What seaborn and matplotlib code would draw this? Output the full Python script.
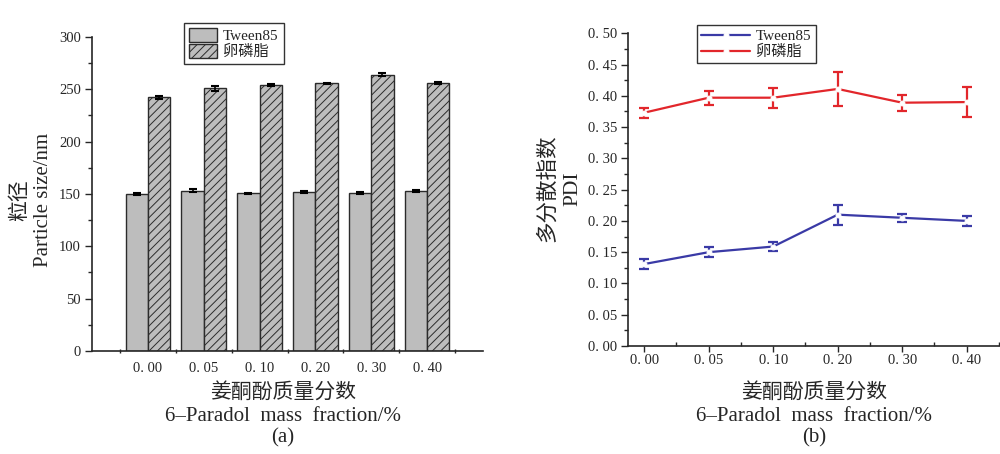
import numpy as np
import pandas as pd
import matplotlib
matplotlib.use("Agg")
import matplotlib.pyplot as plt
from matplotlib.ticker import MultipleLocator, FixedLocator
import seaborn as sns

# data
fractions = ["0. 00", "0. 05", "0. 10", "0. 20", "0. 30", "0. 40"]
series = ["Tween85", "卵磷脂"]

tween_size = [149.7, 153.3, 150.6, 151.7, 151.2, 152.6]
tween_size_err = [0.8, 1.2, 0.8, 0.8, 0.8, 0.8]
lecithin_size = [242.3, 250.8, 254.0, 255.6, 264.0, 256.2]
lecithin_size_err = [1.4, 2.4, 1.0, 0.8, 1.2, 1.0]

tween_pdi = [0.131, 0.150, 0.159, 0.210, 0.205, 0.200]
tween_pdi_err = [0.0085, 0.0083, 0.0077, 0.016, 0.006, 0.0077]
lecithin_pdi = [0.373, 0.397, 0.397, 0.411, 0.389, 0.390]
lecithin_pdi_err = [0.008, 0.011, 0.016, 0.027, 0.0125, 0.0237]

blue = "#3a3aa6"
red = "#e2262b"

sns.set_style("ticks")
plt.rcParams['font.family'] = ['Liberation Serif', 'Noto Sans CJK SC']
plt.rcParams['hatch.linewidth'] = 0.7
plt.rcParams['axes.linewidth'] = 1.2

fig = plt.figure(figsize=(10, 4.54), dpi=100)
ax1 = fig.add_axes([0.092, 0.2269, 0.391, 0.6916])
ax2 = fig.add_axes([0.628, 0.2379, 0.371, 0.6888])

# ---------- (a) particle size bars ----------
size_df = pd.DataFrame({
    "frac": fractions * 2,
    "size": tween_size + lecithin_size,
    "series": [series[0]] * 6 + [series[1]] * 6,
})
sns.barplot(data=size_df, x="frac", y="size", hue="series", hue_order=series,
            palette=["#bdbdbd", "#bdbdbd"], saturation=1, edgecolor="#2b2b2b",
            linewidth=1.0, errorbar=None, legend=False, ax=ax1)
for bar in ax1.containers[1]:
    bar.set_hatch("////")

for cont, err in zip(ax1.containers, [tween_size_err, lecithin_size_err]):
    xs = [b.get_x() + b.get_width() / 2 for b in cont]
    ys = [b.get_height() for b in cont]
    ax1.errorbar(xs, ys, yerr=err, fmt="none", ecolor="black", elinewidth=1.2,
                 capsize=3, capthick=1.5, zorder=5)

ax1.set_xlim(-1, 6)
ax1.set_ylim(0, 300)
ax1.yaxis.set_major_locator(MultipleLocator(50))
ax1.yaxis.set_minor_locator(MultipleLocator(25))
ax1.xaxis.set_minor_locator(FixedLocator(np.arange(-0.5, 6, 1)))
ax1.tick_params(axis="x", which="major", length=0, pad=8, labelsize=10.5)
ax1.tick_params(axis="x", which="minor", length=3, direction="inout", width=1)
ax1.tick_params(axis="y", which="major", length=5, width=1, labelsize=10.5, pad=3)
ax1.tick_params(axis="y", which="minor", length=3, width=1)
ax1.set_xlabel("")
ax1.set_ylabel("")
sns.despine(ax=ax1)

leg1 = ax1.legend(handles=list(ax1.containers), labels=series, loc="upper left",
                  bbox_to_anchor=(0.235, 1.045), fontsize=11, frameon=True,
                  fancybox=False, edgecolor="black", handlelength=1.8,
                  handleheight=1.0, labelspacing=0.05, borderpad=0.35,
                  handletextpad=0.4, borderaxespad=0)
leg1.get_frame().set_linewidth(1.0)

# ---------- (b) PDI lines ----------
pdi_df = pd.DataFrame({
    "pos": list(range(6)) * 2,
    "pdi": tween_pdi + lecithin_pdi,
    "series": [series[0]] * 6 + [series[1]] * 6,
})
sns.lineplot(data=pdi_df, x="pos", y="pdi", hue="series", hue_order=series,
             palette=[blue, red], marker="o", markersize=3.5,
             markerfacecolor="white", markeredgecolor="white", linewidth=1.6,
             legend=False, ax=ax2)
line_handles = list(ax2.get_lines()[:2])

for vals, err, col in zip([tween_pdi, lecithin_pdi], [tween_pdi_err, lecithin_pdi_err], [blue, red]):
    ax2.errorbar(range(6), vals, yerr=err, fmt="none", ecolor=col, elinewidth=1.6,
                 capsize=3.5, capthick=1.6, zorder=1)

ax2.set_xlim(-0.25, 5.5)
ax2.set_ylim(0, 0.5)
ax2.set_xticks(range(6))
ax2.set_xticklabels(fractions)
ax2.xaxis.set_minor_locator(FixedLocator(np.arange(0.5, 5.6, 1)))
ax2.yaxis.set_minor_locator(MultipleLocator(0.025))
ax2.set_yticks(np.arange(0, 0.501, 0.05))
ax2.set_yticklabels(["0. %02d" % round(v * 100) for v in np.arange(0, 0.501, 0.05)])
ax2.tick_params(axis="x", which="major", length=4, width=1, labelsize=10.5, pad=2)
ax2.tick_params(axis="x", which="minor", length=3, direction="in", width=1)
ax2.tick_params(axis="y", which="major", length=5, width=1, labelsize=10.5, pad=3)
ax2.tick_params(axis="y", which="minor", length=3, width=1)
ax2.set_xlabel("")
ax2.set_ylabel("")
sns.despine(ax=ax2)

leg2 = ax2.legend(handles=line_handles, labels=series, loc="upper left",
                  bbox_to_anchor=(0.185, 1.027), fontsize=11, frameon=True,
                  fancybox=False, edgecolor="black", handlelength=3.2,
                  labelspacing=0.1, borderpad=0.3, handletextpad=0.4,
                  borderaxespad=0)
leg2.get_frame().set_linewidth(1.0)

# ---------- axis titles ----------
fig.text(0.032, 0.56, "粒径\nParticle size/nm", rotation=90, ha="center",
         va="center", fontsize=15, linespacing=1.3)
fig.text(0.560, 0.585, "多分散指数\nPDI", rotation=90, ha="center",
         va="center", fontsize=15.5, linespacing=1.4)

for cx, tag in [(0.283, "(a)"), (0.814, "(b)")]:
    fig.text(cx, 0.134, "姜酮酚质量分数", ha="center", va="center", fontsize=15)
    fig.text(cx, 0.0815, "6–Paradol  mass  fraction/%", ha="center", va="center", fontsize=15)
    fig.text(cx, 0.035, tag, ha="center", va="center", fontsize=15)

fig.savefig("out.png", dpi=100)
